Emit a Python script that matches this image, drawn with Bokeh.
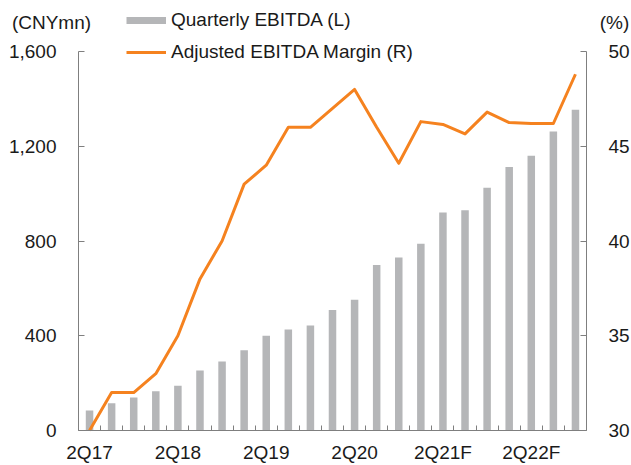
from bokeh.plotting import figure
from bokeh.models import (Range1d, LinearAxis, FixedTicker, NumeralTickFormatter,
                          Legend, LegendItem, Label, ColumnDataSource)
from bokeh.embed import file_html
from bokeh.resources import INLINE

quarters = ["2Q17", "3Q17", "4Q17", "1Q18", "2Q18", "3Q18", "4Q18", "1Q19",
            "2Q19", "3Q19", "4Q19", "1Q20", "2Q20", "3Q20", "4Q20F", "1Q21F",
            "2Q21F", "3Q21F", "4Q21F", "1Q22F", "2Q22F", "3Q22F", "4Q22F"]
ebitda = [84, 115, 139, 166, 189, 253, 291, 339, 400, 426, 443, 509, 552,
          699, 730, 788, 920, 930, 1025, 1112, 1160, 1262, 1354]
margin = [30.0, 32.0, 32.0, 33.0, 35.0, 38.0, 40.0, 43.0, 44.0, 46.0, 46.0,
          47.0, 48.0, 46.0, 44.1, 46.3, 46.15, 45.65, 46.8, 46.25, 46.2, 46.2, 48.8]
left_ticks = [0, 400, 800, 1200, 1600]
right_ticks = [30, 35, 40, 45, 50]
label_every = 4

# layout (pixels on the 631x465 canvas)
W, H = 631, 465
PL, PR, PT, PB = 78, 586, 51, 430

FONT = "Liberation Sans"
FS = "19px"
BAR = "#b5b6b8"
ORANGE = "#f5821f"
AXIS = "#7f7f7f"
TXT = "#1a1a1a"

n = len(quarters)
x0, x1 = -0.5, n - 0.5
xs = (x1 - x0) / (PR - PL)
l0, l1 = left_ticks[0], left_ticks[-1]
ls = (l1 - l0) / (PB - PT)
r0, r1 = right_ticks[0], right_ticks[-1]
rs = (r1 - r0) / (PB - PT)

idx = list(range(n))
src = ColumnDataSource(dict(x=idx, q=quarters, ebitda=ebitda, margin=margin))

p = figure(width=W, height=H, output_backend="svg", toolbar_location=None,
           x_range=Range1d(x0 - PL * xs, x1 + (W - PR) * xs),
           y_range=Range1d(l0 - (H - PB) * ls, l1 + PT * ls),
           min_border=0, min_border_left=0, min_border_right=0,
           min_border_top=0, min_border_bottom=0,
           x_axis_location=None, y_axis_location=None)
p.extra_y_ranges = {"pct": Range1d(r0 - (H - PB) * rs, r1 + PT * rs)}
p.outline_line_color = None
p.xgrid.visible = False
p.ygrid.visible = False
p.background_fill_color = "white"
p.border_fill_color = "white"

bars = p.vbar(x="x", top="ebitda", width=0.34, source=src, fill_color=BAR,
              line_color=None)
line = p.line(x="x", y="margin", source=src, y_range_name="pct",
              line_color=ORANGE, line_width=3, line_join="round")
# legend swatch for the bars (not drawn in the plot itself)
proxy = p.line(x="x", y="ebitda", source=src, line_color=BAR, line_width=7,
               visible=False)


def style(ax):
    ax.axis_line_color = AXIS
    ax.major_tick_line_color = AXIS
    ax.minor_tick_line_color = AXIS
    ax.major_label_text_font = FONT
    ax.major_label_text_font_size = FS
    ax.major_label_text_color = TXT
    ax.major_tick_out = 0
    ax.minor_tick_out = 0


xa = LinearAxis(ticker=FixedTicker(ticks=idx[::label_every],
                                   minor_ticks=[i - 0.5 for i in range(n + 1)]),
                fixed_location=l0, bounds=(x0, x1))
xa.major_label_overrides = {i: quarters[i] for i in idx[::label_every]}
style(xa)
xa.major_tick_in = 0
xa.minor_tick_in = 5
xa.major_label_standoff = 11
p.add_layout(xa, "below")

ya = LinearAxis(ticker=FixedTicker(ticks=left_ticks, minor_ticks=[]),
                formatter=NumeralTickFormatter(format="0,0"),
                fixed_location=x0, bounds=(l0, l1))
style(ya)
ya.major_tick_in = 6
ya.minor_tick_in = 0
ya.major_label_standoff = 22
p.add_layout(ya, "left")

yb = LinearAxis(y_range_name="pct", ticker=FixedTicker(ticks=right_ticks, minor_ticks=[]),
                fixed_location=x1, bounds=(r0, r1))
style(yb)
yb.major_tick_in = 6
yb.minor_tick_in = 0
yb.major_label_standoff = 22
p.add_layout(yb, "right")

legend = Legend(items=[LegendItem(label="Quarterly EBITDA (L)", renderers=[proxy]),
                       LegendItem(label="Adjusted EBITDA Margin (R)", renderers=[line])],
                location=(126, H - 63), orientation="vertical",
                glyph_width=40, glyph_height=22, label_height=22, spacing=10,
                padding=0, margin=0, label_standoff=5,
                label_text_font=FONT, label_text_font_size=FS,
                label_text_color=TXT, border_line_color=None,
                background_fill_alpha=0, inactive_fill_alpha=0)
p.add_layout(legend, "center")

p.add_layout(Label(x=x0 - 27 * xs, y=l1 + 29 * ls, text="(CNYmn)",
                   text_align="center", text_baseline="middle", text_font=FONT,
                   text_font_size=FS, text_color=TXT))
p.add_layout(Label(x=x1 + 28 * xs, y=l1 + 29 * ls, text="(%)",
                   text_align="center", text_baseline="middle", text_font=FONT,
                   text_font_size=FS, text_color=TXT))

open("out.html", "w").write(file_html(p, INLINE))
